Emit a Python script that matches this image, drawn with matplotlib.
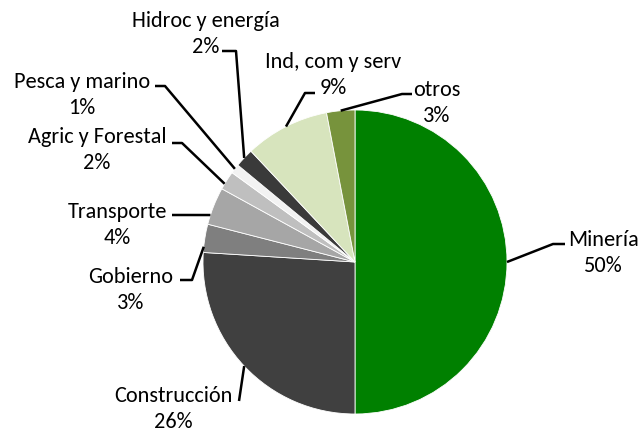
import numpy as np
import matplotlib
matplotlib.use('Agg')
import matplotlib.pyplot as plt
from matplotlib import font_manager

# datos: distribución por sector
sectores = ['Minería', 'Construcción', 'Gobierno', 'Transporte', 'Agric y Forestal',
            'Pesca y marino', 'Hidroc y energía', 'Ind, com y serv', 'otros']
porcentajes = [50, 26, 3, 4, 2, 1, 2, 9, 3]
colores = ['#008000', '#404040', '#7f7f7f', '#a6a6a6', '#bfbfbf',
           '#f2f2f2', '#3a3a3a', '#d7e4bd', '#77933c']

# fuente parecida a Calibri
disponibles = set(f.name for f in font_manager.fontManager.ttflist)
fuente = 'DejaVu Sans'
for f in ['Carlito', 'Calibri', 'Lato', 'Open Sans']:
    if f in disponibles:
        fuente = f
        break
plt.rcParams['font.family'] = [fuente, 'DejaVu Sans']

W, H = 643, 435
fig = plt.figure(figsize=(W / 100, H / 100), dpi=100)
ax = fig.add_axes([0, 0, 1, 1])
ax.set_xlim(0, W)
ax.set_ylim(0, H)
ax.axis('off')

cx, cy, r = 355, 263, 152
wedges, _ = ax.pie(porcentajes, colors=colores, startangle=90, counterclock=False,
                   center=(cx, H - cy), radius=r,
                   wedgeprops=dict(edgecolor='white', linewidth=0.6))
ax.set_xlim(0, W)
ax.set_ylim(0, H)

# posiciones de etiquetas (px, y hacia abajo), codos de las líneas guía
# y fracción dentro de la porción donde toca la línea
etiquetas = {
    'Minería':          ((603, 253), [(565, 245), (553, 245)], 0.5),
    'Construcción':     ((173, 409), [(239, 402)], 0.5),
    'Gobierno':         ((131, 290), [(180, 281), (192, 281)], 0.2),
    'Transporte':       ((117, 225), [(172, 216), (184, 216)], 0.25),
    'Agric y Forestal': ((97, 150),  [(172, 144), (182, 144)], 0.3),
    'Pesca y marino':   ((82, 95),   [(155, 87), (165, 87)], 0.5),
    'Hidroc y energía': ((206, 34),  [(222, 52), (236, 52)], 0.5),
    'Ind, com y serv':  ((333, 75),  [(315, 94), (305, 94)], 0.5),
    'otros':            ((437, 103), [(412, 95), (402, 95)], 0.5),
}

for w, nombre, p in zip(wedges, sectores, porcentajes):
    (tx, ty), codos, f = etiquetas[nombre]
    ang = np.deg2rad(w.theta2 - f * (w.theta2 - w.theta1))
    ax_pt = (cx + r * np.cos(ang), cy - r * np.sin(ang))
    pts = codos + [ax_pt]
    ax.plot([q[0] for q in pts], [H - q[1] for q in pts], color='black',
            lw=1.8, solid_capstyle='butt', zorder=3)
    ax.text(tx, H - ty, f'{nombre}\n{p}%', ha='center', va='center',
            multialignment='center', fontsize=16, linespacing=1.35,
            color='#000000')

fig.savefig('out.png', dpi=100)
